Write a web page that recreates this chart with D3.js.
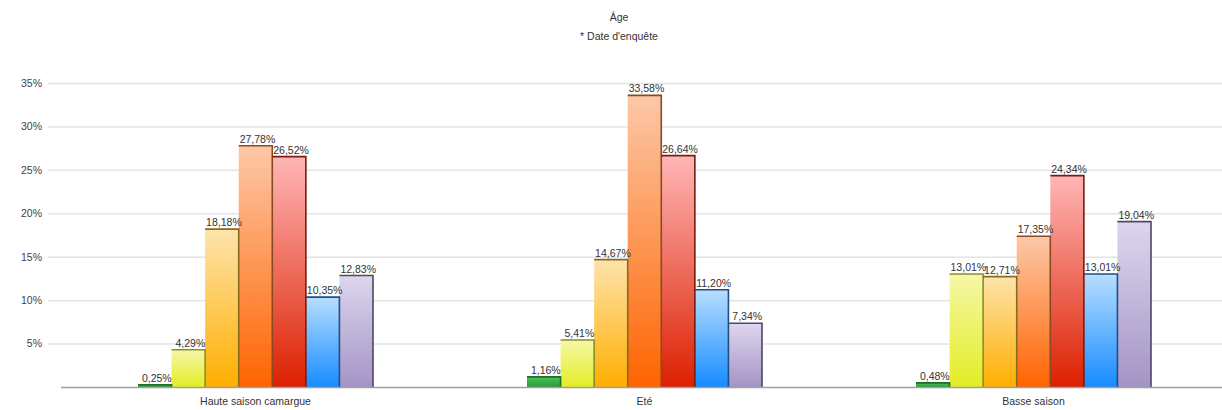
<!DOCTYPE html>
<html>
<head>
<meta charset="utf-8">
<script src="https://cdn.jsdelivr.net/npm/d3@7"></script>
<style>
  html, body { margin: 0; padding: 0; background: #fff; }
  svg { display: block; font-family: "Liberation Sans", Arial, sans-serif; }
</style>
</head>
<body>
<svg id="chart" width="1222" height="410"></svg>
<script>
// Survey periods (x categories)
const categories = ["Haute saison camargue", "Eté", "Basse saison"];
// Age brackets (one bar per bracket in each period)
const ageGroups = ["g1", "g2", "g3", "g4", "g5", "g6", "g7"];
// Percentages per period, in bracket order
const hauteSaison = [0.25, 4.29, 18.18, 27.78, 26.52, 10.35, 12.83];
const ete = [1.16, 5.41, 14.67, 33.58, 26.64, 11.20, 7.34];
const basseSaison = [0.48, 13.01, 12.71, 17.35, 24.34, 13.01, 19.04];
const yTicks = [5, 10, 15, 20, 25, 30, 35];

const seriesByCategory = [hauteSaison, ete, basseSaison];

// Bar gradients: top colour, bottom colour, outline colour
const palette = [
  { top: "#4cc35a", bottom: "#2a9a36", edge: "#1d6e26" },
  { top: "#f6f7a8", bottom: "#e3ee24", edge: "#8a8f2a" },
  { top: "#fde4ac", bottom: "#ffae00", edge: "#8a6a1c" },
  { top: "#fcc8a8", bottom: "#ff6400", edge: "#8a4a20" },
  { top: "#ffb6b6", bottom: "#dc2000", edge: "#7a1a10" },
  { top: "#b8deff", bottom: "#168cff", edge: "#1f4f86" },
  { top: "#ddd6ee", bottom: "#a494c6", edge: "#4e4866" }
];

const svg = d3.select("#chart");
const width = 1222;

// Each period occupies one band; bars sit in the middle of it
const x0 = d3.scaleBand().domain(categories).range([61, 1228]);
const x1 = d3.scaleBand().domain(ageGroups).range([77, 312]);
const y = d3.scaleLinear().domain([0, 35]).range([387, 83]);

// Gradients
const defs = svg.append("defs");
palette.forEach((c, i) => {
  const g = defs.append("linearGradient")
    .attr("id", "grad" + i)
    .attr("x1", 0).attr("y1", 0).attr("x2", 0).attr("y2", 1);
  g.append("stop").attr("offset", "0%").attr("stop-color", c.top);
  g.append("stop").attr("offset", "100%").attr("stop-color", c.bottom);
});

// Title
svg.append("text")
  .attr("x", 619).attr("y", 21)
  .attr("text-anchor", "middle")
  .attr("font-size", 10.5).attr("fill", "#333")
  .text("Âge");
svg.append("text")
  .attr("x", 619).attr("y", 40)
  .attr("text-anchor", "middle")
  .attr("font-size", 10.5).attr("fill", "#333")
  .text("* Date d'enquête");

// Horizontal grid and y labels
const yAxis = d3.axisLeft(y)
  .tickValues(yTicks)
  .tickSize(-(width - 48))
  .tickFormat(d => d + "%");
const yG = svg.append("g").attr("transform", "translate(48,0)").call(yAxis);
yG.select(".domain").remove();
yG.selectAll(".tick line").attr("stroke", "#e4e4e4").attr("stroke-width", 1.5);
yG.selectAll(".tick text")
  .attr("x", -6)
  .attr("font-size", 10.5)
  .attr("fill", "#444")
  .attr("font-family", "\"Liberation Sans\", Arial, sans-serif");

// Bars
const groups = svg.append("g").selectAll("g")
  .data(categories)
  .join("g")
  .attr("transform", d => `translate(${x0(d)},0)`);

groups.each(function (cat, ci) {
  const g = d3.select(this);
  const vals = seriesByCategory[ci];
  const data = ageGroups.map((k, i) => ({ k, i, v: vals[i] }));

  g.selectAll("rect")
    .data(data)
    .join("rect")
    .attr("x", d => x1(d.k))
    .attr("y", d => y(d.v))
    .attr("width", x1.bandwidth())
    .attr("height", d => y(0) - y(d.v))
    .attr("fill", d => `url(#grad${d.i})`);

  // Dark outline along the top and right side of each bar
  g.selectAll("path.edge")
    .data(data)
    .join("path")
    .attr("class", "edge")
    .attr("fill", "none")
    .attr("stroke", d => palette[d.i].edge)
    .attr("stroke-width", 1.6)
    .attr("d", d => {
      const xl = x1(d.k), xr = xl + x1.bandwidth(), yt = y(d.v), yb = y(0);
      return `M${xl},${yt}H${xr}V${yb}`;
    });

  g.selectAll("text.val")
    .data(data)
    .join("text")
    .attr("class", "val")
    .attr("x", d => x1(d.k) + x1.bandwidth() / 2 + 2)
    .attr("y", d => y(d.v) - 3)
    .attr("text-anchor", "middle")
    .attr("font-size", 10.5)
    .attr("fill", "#333")
    .text(d => d.v.toFixed(2).replace(".", ",") + "%");
});

// Baseline
svg.append("line")
  .attr("x1", 61).attr("x2", width)
  .attr("y1", y(0) + 0.5).attr("y2", y(0) + 0.5)
  .attr("stroke", "#a0a0a0").attr("stroke-width", 1.5);

// Category labels, centred under each group of bars
const groupMid = (x1.range()[0] + x1.range()[1]) / 2;
svg.append("g").selectAll("text")
  .data(categories)
  .join("text")
  .attr("x", d => x0(d) + groupMid)
  .attr("y", 405)
  .attr("text-anchor", "middle")
  .attr("font-size", 10.5)
  .attr("fill", "#333")
  .text(d => d);
</script>
</body>
</html>
